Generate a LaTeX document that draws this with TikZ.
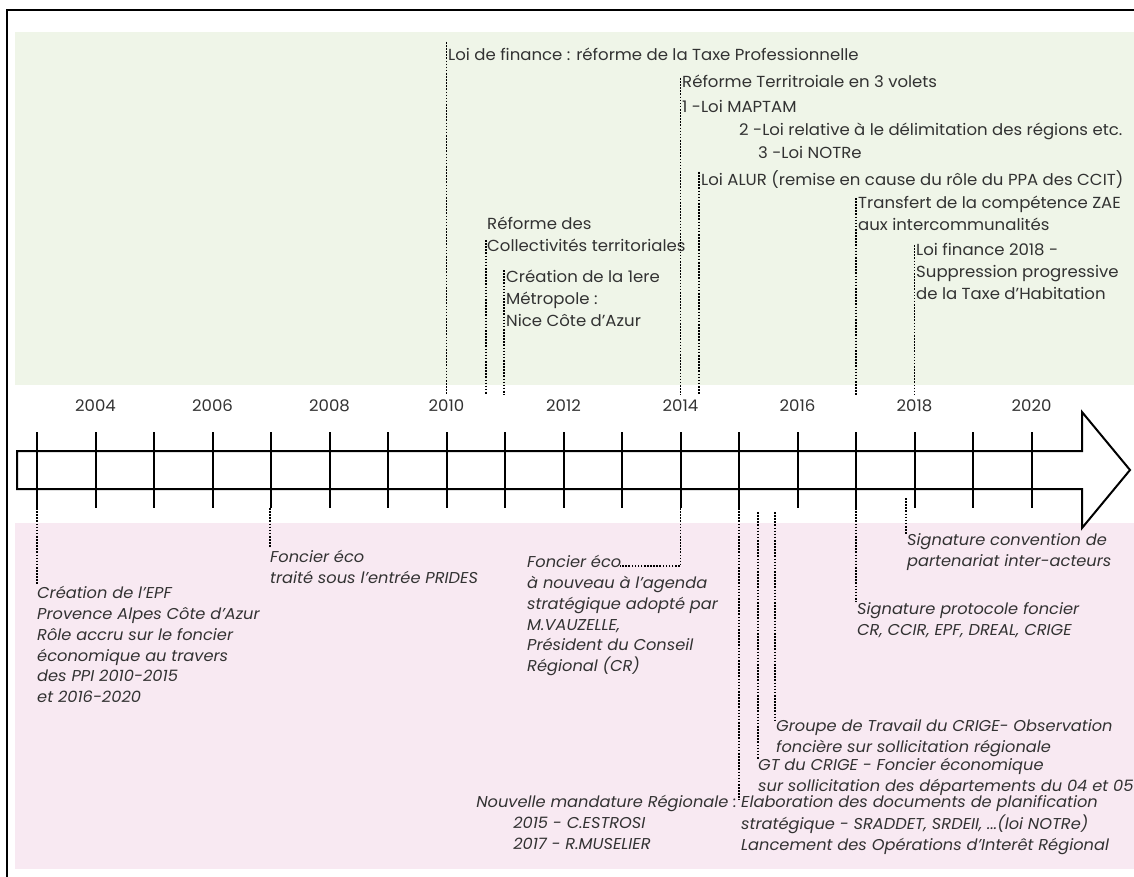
\documentclass[tikz,border=0pt]{standalone}
\usepackage{fontspec}
\setmainfont{Poppins}[FakeStretch=1.034]
\definecolor{greenbg}{RGB}{239,245,232}
\definecolor{pinkbg}{RGB}{248,233,242}
\definecolor{textc}{RGB}{50,50,50}
\begin{document}
\begin{tikzpicture}[x=1pt,y=-1pt,
  lbl/.style={anchor=north west, inner sep=0pt, align=left, text=textc, font=\fontsize{16}{22}\selectfont},
  ilbl/.style={anchor=north west, inner sep=0pt, align=left, text=textc, font=\fontsize{15.7}{20.8}\selectfont\itshape},
  yearlbl/.style={inner sep=0pt, text=textc, font=\fontsize{16}{18}\selectfont},
  dotline/.style={line width=1.7pt, dash pattern=on 1.6pt off 1.5pt},
  tickline/.style={line width=2pt},
  frameline/.style={line width=2.5pt}]
\useasboundingbox (0,0) rectangle (1134,877);
% background bands
\fill[greenbg] (15,32) rectangle (1134,385);
\fill[pinkbg] (15,523) rectangle (1134,869);
% frame
\draw[frameline] (7,877) -- (7,10) -- (1134,10);
% arrow
\draw[line width=2pt, fill=white, line join=miter]
  (17,451) -- (1082,451) -- (1082,412) -- (1130,470) -- (1082,528) -- (1082,489) -- (17,489) -- cycle;
% ticks
\foreach \k in {0,...,17}{
  \draw[tickline] ({37+58.5*\k},432) -- ({37+58.5*\k},508);
}
% year labels
\foreach \k/\yr in {1/2004,3/2006,5/2008,7/2010,9/2012,11/2014,13/2016,15/2018,17/2020}{
  \node[yearlbl] (y\yr) at ({37+58.5*\k},406) {\yr};
}
% ---------- top events ----------
\node[lbl] (t1) at (448,44.8) {\strut Loi de finance : réforme de la Taxe Professionnelle};
\node[lbl] (t2) at (682,71.8) {\strut Réforme Territroiale en 3 volets};
\node[lbl] (t3) at (682,96.8) {\strut 1 -Loi MAPTAM};
\node[lbl] (t4) at (739,119.8) {\strut 2 -Loi relative à le délimitation des régions etc.};
\node[lbl] (t5) at (758,142.8) {\strut 3 -Loi NOTRe};
\node[lbl] (t6) at (701,169.8) {\strut Loi ALUR (remise en cause du rôle du PPA des CCIT)};
\node[lbl] (t7) at (858,192.8) {\strut Transfert de la compétence ZAE\\aux intercommunalités};
\node[lbl] (t8) at (487,213.8) {\strut Réforme des\\Collectivités territoriales};
\node[lbl] (t9) at (916,239.8) {\strut Loi finance 2018 -\\Suppression progressive\\de la Taxe d’Habitation};
\node[lbl] (t10) at (506,266.8) {\strut Création de la 1ere\\Métropole :\\Nice Côte d’Azur};
% top dotted connectors
\coordinate (a2010) at (446.5,395);
\coordinate (a2010b) at (486,395);
\coordinate (a2011) at (504,395);
\coordinate (a2014) at (680.5,395);
\coordinate (a2014b) at (699,395);
\coordinate (a2017) at (856,395);
\coordinate (a2018) at (914.5,395);
\draw[dotline] (446.5,42) -- (a2010);
\draw[dotline] (486,240) -- (a2010b);
\draw[dotline] (504,270) -- (a2011);
\draw[dotline] (680.5,78) -- (a2014);
\draw[dotline] (699,172) -- (a2014b);
\draw[dotline] (856,198) -- (a2017);
\draw[dotline] (914.5,245) -- (a2018);
% ---------- bottom events ----------
\node[ilbl] (b1) at (37,584) {\strut Création de l’EPF\\Provence Alpes Côte d’Azur\\Rôle accru sur le foncier\\économique au travers\\des PPI 2010-2015\\et 2016-2020};
\node[ilbl] (b2) at (270,548) {\strut Foncier éco\\traité sous l’entrée PRIDES};
\node[ilbl] (b3) at (527,553) {\strut Foncier éco\\à nouveau à l’agenda\\stratégique adopté par\\M.VAUZELLE,\\Président du Conseil\\Régional (CR)};
\node[ilbl] (b4) at (907,531) {\strut Signature convention de\\partenariat inter-acteurs};
\node[ilbl] (b5) at (857,600) {\strut Signature protocole foncier\\CR, CCIR, EPF, DREAL, CRIGE};
\node[ilbl] (b6) at (776,717) {\strut Groupe de Travail du CRIGE- Observation\\foncière sur sollicitation régionale};
\node[ilbl] (b7) at (758,756) {\strut GT du CRIGE - Foncier économique\\sur sollicitation des départements du 04 et 05};
\node[ilbl] (b8) at (741,793) {\strut Elaboration des documents de planification\\stratégique - SRADDET, SRDEII, ...(loi NOTRe)\\Lancement des Opérations d’Interêt Régional};
\node[ilbl, anchor=north east] (b9) at (737,793) {\strut Nouvelle mandature Régionale :\\\hspace*{37pt}2015 - C.ESTROSI\\\hspace*{37pt}2017 - R.MUSELIER};
% bottom dotted connectors
\coordinate (c2003) at (37,508);
\coordinate (c2007) at (270,508);
\coordinate (c2014) at (680.5,508);
\coordinate (c2014h) at (680.5,566);
\coordinate (c2014e) at (620,566);
\coordinate (c2015) at (739,508);
\coordinate (c2015b) at (758,512);
\coordinate (c2015c) at (775,512);
\coordinate (c2017) at (856,508);
\coordinate (c2018) at (906,498);
\draw[dotline] (c2003) -- (37,585);
\draw[dotline] (c2007) -- (270,548);
\draw[dotline] (c2014) -- (c2014h) -- (c2014e);
\draw[dotline] (c2015) -- (739,800);
\draw[dotline] (c2015b) -- (758,760);
\draw[dotline] (c2015c) -- (775,720);
\draw[dotline] (c2017) -- (856,602);
\draw[dotline] (c2018) -- (906,535);
\end{tikzpicture}
\end{document}
